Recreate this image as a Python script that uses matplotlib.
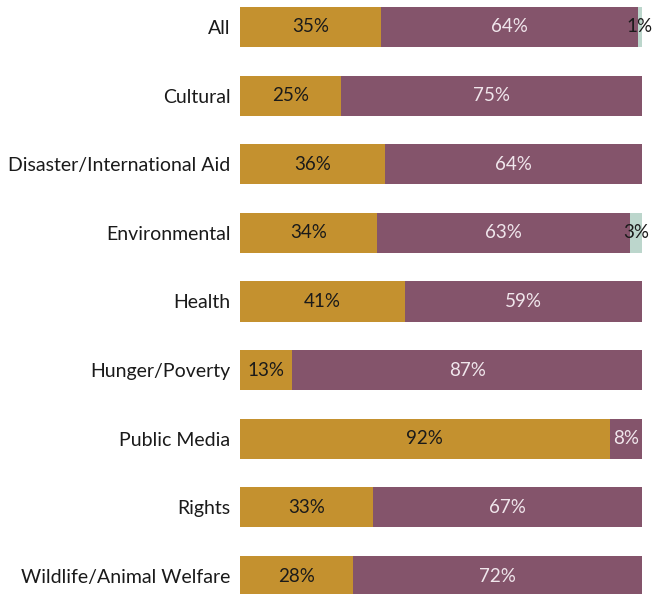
import matplotlib
matplotlib.use("Agg")
import matplotlib.pyplot as plt

categories = ["All", "Cultural", "Disaster/International Aid", "Environmental", "Health",
              "Hunger/Poverty", "Public Media", "Rights", "Wildlife/Animal Welfare"]
series_a = [35, 25, 36, 34, 41, 13, 92, 33, 28]
series_b = [64, 75, 64, 63, 59, 87, 8, 67, 72]
series_c = [1, 0, 0, 3, 0, 0, 0, 0, 0]

colors = ["#C4912F", "#84546B", "#BCD6CC"]
text_colors = ["#1a1a1a", "#F0E6EC", "#1a1a1a"]

plt.rcParams['font.family'] = ['Lato', 'DejaVu Sans']
fig = plt.figure(figsize=(6.53, 5.94), dpi=100)
ax = fig.add_axes([240/653, 0, 402/653, 1])

y = list(range(len(categories)))
left = [0]*len(categories)
for vals, col, tcol in zip([series_a, series_b, series_c], colors, text_colors):
    bars = ax.barh(y, vals, left=left, height=0.585, color=col, edgecolor='none')
    for i, v in enumerate(vals):
        if v > 0:
            ax.text(left[i] + v/2, i, f"{v}%", ha='center', va='center',
                    color=tcol, fontsize=13.5)
    left = [l + v for l, v in zip(left, vals)]

ax.set_xlim(0, 100)
ax.set_ylim(8 + 18/68.625, -27/68.625)
ax.set_yticks(y)
ax.set_yticklabels(categories, fontsize=14, color="#1a1a1a")
ax.tick_params(axis='y', length=0, pad=7)
ax.set_xticks([])
for s in ax.spines.values():
    s.set_visible(False)

fig.savefig("out.png", dpi=100)
